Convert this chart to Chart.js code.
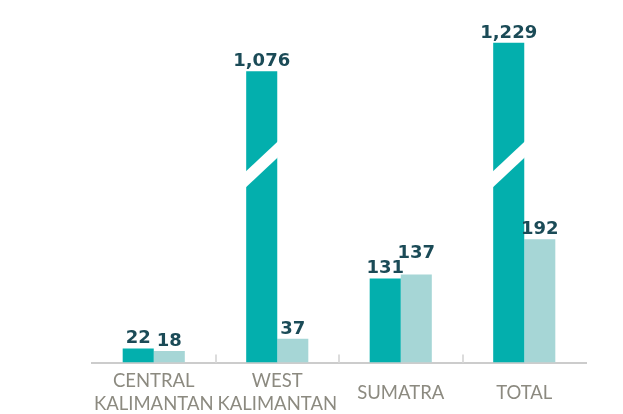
<!DOCTYPE html>
<html>
<head>
<meta charset="utf-8">
<script src="https://cdn.jsdelivr.net/npm/chart.js@4/dist/chart.umd.min.js"></script>
<style>
  html, body { margin: 0; padding: 0; background: #fff; }
  #wrap { width: 623px; height: 414px; position: relative; }
</style>
</head>
<body>
<div id="wrap"><canvas id="chart"></canvas></div>
<script>
  // ---- data ----
  const categories = [
    ["CENTRAL", "KALIMANTAN"],
    ["WEST", "KALIMANTAN"],
    "SUMATRA",
    "TOTAL",
  ];
  const seriesDark = [22, 1076, 131, 1229];
  const seriesLight = [18, 37, 137, 192];

  // broken axis: values above BREAK_AT are squeezed
  const BREAK_AT = 200;
  const SQUEEZE = 0.29;
  const SLASH_AT = 308; // position of the white slash, in squeezed units
  const Y_MAX = 565;

  function squeeze(v) {
    return v <= BREAK_AT ? v : BREAK_AT + (v - BREAK_AT) * SQUEEZE;
  }

  const DARK = "#03afad";
  const LIGHT = "#a6d6d6";
  const LABEL = "#1b4b57";

  // ---- plugins ----
  const boundaryTicks = {
    id: "boundaryTicks",
    afterDatasetsDraw(chart) {
      const x = chart.scales.x;
      const ctx = chart.ctx;
      const bottom = chart.chartArea.bottom;
      ctx.save();
      ctx.strokeStyle = "#dcdcdc";
      ctx.lineWidth = 2;
      for (let i = 1; i < categories.length; i++) {
        const px = Math.round((x.getPixelForValue(i - 1) + x.getPixelForValue(i)) / 2);
        ctx.beginPath();
        ctx.moveTo(px, bottom - 8);
        ctx.lineTo(px, bottom);
        ctx.stroke();
      }
      ctx.restore();
    },
  };

  const breakSlash = {
    id: "breakSlash",
    afterDatasetsDraw(chart) {
      const ctx = chart.ctx;
      const y = chart.scales.y;
      const cy = y.getPixelForValue(SLASH_AT);
      ctx.save();
      ctx.fillStyle = "#fff";
      chart.data.datasets.forEach((ds, di) => {
        const meta = chart.getDatasetMeta(di);
        ds.raw.forEach((v, i) => {
          if (v <= BREAK_AT) return;
          const bar = meta.data[i];
          const l = bar.x - bar.width / 2 - 1;
          const r = bar.x + bar.width / 2 + 1;
          ctx.beginPath();
          ctx.moveTo(l, cy + 7);
          ctx.lineTo(r, cy - 24);
          ctx.lineTo(r, cy - 8);
          ctx.lineTo(l, cy + 23);
          ctx.closePath();
          ctx.fill();
        });
      });
      ctx.restore();
    },
  };

  const valueLabels = {
    id: "valueLabels",
    afterDatasetsDraw(chart) {
      const ctx = chart.ctx;
      ctx.save();
      ctx.font = "bold 18px 'DejaVu Sans'";
      ctx.fillStyle = LABEL;
      ctx.textAlign = "center";
      ctx.textBaseline = "alphabetic";
      const capH = 13;
      const placed = [];
      chart.data.datasets.forEach((ds, di) => {
        const meta = chart.getDatasetMeta(di);
        ds.raw.forEach((v, i) => {
          const bar = meta.data[i];
          const text = v.toLocaleString("en-US");
          const w = ctx.measureText(text).width;
          let base = bar.y - 5;
          // lift a label that would run into its neighbour
          placed
            .filter((p) => p.i === i)
            .forEach((p) => {
              const hOverlap = bar.x - w / 2 < p.x + p.w / 2 && bar.x + w / 2 > p.x - p.w / 2;
              const vOverlap = base > p.base - capH && base - capH < p.base;
              if (hOverlap && vOverlap) base = p.base - capH - 2;
            });
          ctx.fillText(text, bar.x, base);
          placed.push({ i, x: bar.x, w, base });
        });
      });
      ctx.restore();
    },
  };

  // ---- chart ----
  new Chart(document.getElementById("chart"), {
    type: "bar",
    data: {
      labels: categories,
      datasets: [
        {
          data: seriesDark.map(squeeze),
          raw: seriesDark,
          backgroundColor: DARK,
          borderWidth: 0,
        },
        {
          data: seriesLight.map(squeeze),
          raw: seriesLight,
          backgroundColor: LIGHT,
          borderWidth: 0,
        },
      ],
    },
    options: {
      responsive: true,
      maintainAspectRatio: false,
      animation: false,
      layout: { padding: { left: 92, right: 37, top: 0, bottom: 0 } },
      plugins: { legend: { display: false }, tooltip: { enabled: false } },
      datasets: { bar: { categoryPercentage: 0.503, barPercentage: 1 } },
      scales: {
        x: {
          grid: { display: false, drawTicks: false },
          border: { display: true, color: "#cccccc", width: 2 },
          ticks: {
            color: "#8c8a80",
            font: { family: "Lato", size: 18.5, lineHeight: 1.22 },
            padding: 19,
            crossAlign: "center",
            maxRotation: 0,
            autoSkip: false,
          },
          afterFit(axis) {
            axis.height = 51.5;
          },
        },
        y: {
          display: false,
          min: 0,
          max: Y_MAX,
        },
      },
    },
    plugins: [boundaryTicks, breakSlash, valueLabels],
  });
</script>
</body>
</html>
